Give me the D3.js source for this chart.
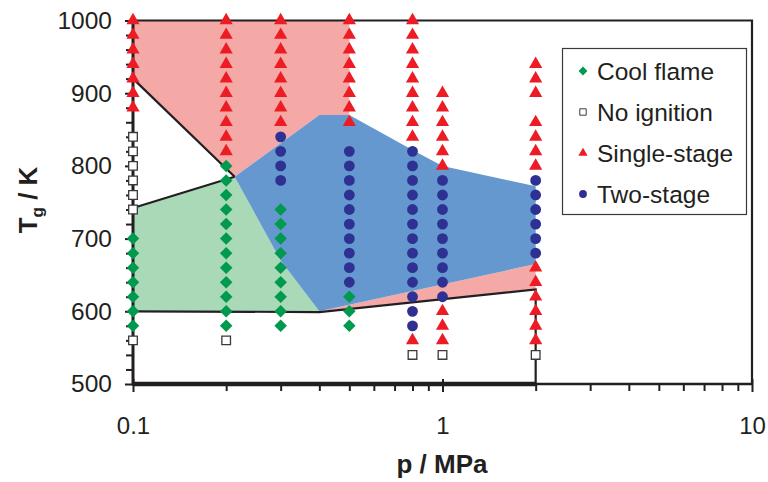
<!DOCTYPE html>
<html>
<head>
<meta charset="utf-8">
<script src="https://cdn.jsdelivr.net/npm/d3@7"></script>
<style>
  html, body { margin: 0; padding: 0; background: #fff; }
  svg { display: block; }
  text { font-family: "Liberation Sans", Arial, sans-serif; fill: #231f20; }
</style>
</head>
<body>
<svg id="chart" width="768" height="482"></svg>
<script>
// Ignition regimes vs. pressure (MPa) and gas temperature (K)

// Observed ignition behaviour, one list of temperatures per pressure
const coolFlame = [
  { p: 0.1, T: [700, 680, 660, 640, 620, 600, 580] },
  { p: 0.2, T: [800, 780, 760, 740, 720, 700, 680, 660, 640, 620, 600, 580] },
  { p: 0.3, T: [740, 720, 700, 680, 660, 640, 620, 600, 580] },
  { p: 0.5, T: [620, 600, 580] }
];
const noIgnition = [
  { p: 0.1, T: [840, 820, 800, 780, 760, 740, 560] },
  { p: 0.2, T: [560] },
  { p: 0.8, T: [540] },
  { p: 1, T: [540] },
  { p: 2, T: [540] }
];
const singleStage = [
  { p: 0.1, T: [1000, 980, 960, 940, 920, 900, 880] },
  { p: 0.2, T: [1000, 980, 960, 940, 920, 900, 880, 860, 840, 820] },
  { p: 0.3, T: [1000, 980, 960, 940, 920, 900, 880, 860] },
  { p: 0.5, T: [1000, 980, 960, 940, 920, 900, 880, 860] },
  { p: 0.8, T: [1000, 980, 960, 940, 920, 900, 880, 860, 840, 560] },
  { p: 1, T: [900, 880, 860, 840, 820, 800, 600, 580, 560] },
  { p: 2, T: [940, 920, 900, 860, 840, 820, 800, 660, 640, 620, 600, 580, 560] }
];
const twoStage = [
  { p: 0.3, T: [840, 820, 800, 780] },
  { p: 0.5, T: [820, 800, 780, 760, 740, 720, 700, 680, 660, 640] },
  { p: 0.8, T: [820, 800, 780, 760, 740, 720, 700, 680, 660, 640, 620, 600, 580] },
  { p: 1, T: [780, 760, 740, 720, 700, 680, 660, 640, 620] },
  { p: 2, T: [780, 760, 740, 720, 700, 680] }
];

// Regime areas as [p, T] outlines
const singleStageHighArea = [[0.1, 1000], [0.5, 1000], [0.5, 870], [0.4, 870], [0.213, 785], [0.1, 920]];
const twoStageArea = [[0.213, 785], [0.4, 870], [0.5, 870], [0.8, 822], [1, 800], [2, 772], [2, 665], [0.4, 600], [0.3, 670]];
const singleStageLowArea = [[0.4, 600], [2, 665], [2, 630]];
const coolFlameArea = [[0.1, 742], [0.213, 785], [0.3, 670], [0.4, 600], [0.1, 600]];

// Regime boundary lines
const upperBoundary = [[0.1, 920], [0.213, 785]];
const coolBoundary = [[0.1, 742], [0.213, 785]];
const lowerBoundary = [[0.1, 600], [0.4, 599], [2, 630], [2, 500]];

// Axis ticks
const xMajorTicks = [0.1, 1, 10];
const xMinorTicks = [0.2, 0.3, 0.4, 0.5, 0.6, 0.7, 0.8, 0.9, 2, 3, 4, 5, 6, 7, 8, 9];
const yMajorTicks = [500, 600, 700, 800, 900, 1000];
const yMinorTicks = [520, 540, 560, 580, 620, 640, 660, 680, 720, 740, 760, 780, 820, 840, 860, 880, 920, 940, 960, 980];

const legendItems = ["Cool flame", "No ignition", "Single-stage", "Two-stage"];

const colors = {
  pink: "#f4a9a7",
  blue: "#6598cf",
  green: "#a9d9b6",
  red: "#ed1c24",
  navy: "#2e3192",
  diamond: "#009a4e",
  line: "#231f20"
};

const svg = d3.select("#chart");
const x = d3.scaleLog().domain([0.1, 10]).range([133, 752]);
const y = d3.scaleLinear().domain([500, 1000]).range([384, 20.5]);

const line = d3.line().x(d => x(d[0])).y(d => y(d[1]));
const area = pts => line(pts) + "Z";

// Filled regimes
svg.append("path").attr("d", area(singleStageHighArea)).attr("fill", colors.pink);
svg.append("path").attr("d", area(singleStageLowArea)).attr("fill", colors.pink);
svg.append("path").attr("d", area(coolFlameArea)).attr("fill", colors.green);
svg.append("path").attr("d", area(twoStageArea)).attr("fill", colors.blue);

// Frame (top and right)
svg.append("path")
  .attr("d", `M${x(0.1)},${y(1000)}H${x(10)}V${y(500)}`)
  .attr("fill", "none").attr("stroke", colors.line).attr("stroke-width", 2.2);

// Boundaries
[upperBoundary, coolBoundary, lowerBoundary].forEach(b => {
  svg.append("path").attr("d", line(b))
    .attr("fill", "none").attr("stroke", colors.line).attr("stroke-width", 2.2)
    .attr("stroke-linejoin", "miter");
});
// Bottom boundary of the low-temperature no-ignition zone lies on the axis
svg.append("path")
  .attr("d", `M${x(0.1)},${y(500)}H${x(2)}`)
  .attr("stroke", colors.line).attr("stroke-width", 4.5);

// X axis
const gx = svg.append("g").attr("transform", `translate(0,${y(500)})`);
gx.append("line").attr("x1", x(0.1)).attr("x2", x(10))
  .attr("stroke", colors.line).attr("stroke-width", 2.5);
gx.call(d3.axisBottom(x).tickValues(xMinorTicks).tickSize(7).tickFormat(""));
gx.call(g => g.select(".domain").remove());
const gxMajor = svg.append("g").attr("transform", `translate(0,${y(500)})`)
  .call(d3.axisBottom(x).tickValues(xMajorTicks).tickSize(8).tickPadding(25)
    .tickFormat(d => d3.format("~g")(d)));
gxMajor.select(".domain").remove();
gxMajor.selectAll(".tick line").attr("y1", -5);
svg.selectAll("g .tick line").attr("stroke", colors.line).attr("stroke-width", 2);
gxMajor.selectAll(".tick text").attr("font-size", 24).attr("fill", colors.line)
  .style("font-family", "'Liberation Sans', Arial, sans-serif");

// Y axis
const gy = svg.append("g").attr("transform", `translate(${x(0.1)},0)`);
gy.call(d3.axisLeft(y).tickValues(yMinorTicks).tickSize(7).tickFormat(""));
gy.select(".domain").remove();
const gyMajor = svg.append("g").attr("transform", `translate(${x(0.1)},0)`)
  .call(d3.axisLeft(y).tickValues(yMajorTicks).tickSize(8).tickPadding(13)
    .tickFormat(d3.format("d")));
gyMajor.select(".domain").remove();
svg.selectAll("g .tick line").attr("stroke", colors.line).attr("stroke-width", 2);
gyMajor.selectAll(".tick text").attr("font-size", 24.5).attr("fill", colors.line)
  .style("font-family", "'Liberation Sans', Arial, sans-serif");
svg.append("line").attr("x1", x(0.1)).attr("x2", x(0.1))
  .attr("y1", y(1000) - 1).attr("y2", y(500) + 1.5)
  .attr("stroke", colors.line).attr("stroke-width", 3);

// Axis titles
svg.append("text")
  .attr("x", 442).attr("y", 473)
  .attr("text-anchor", "middle")
  .attr("font-size", 26).attr("font-weight", "bold")
  .text("p / MPa");
const yTitle = svg.append("text")
  .attr("transform", "translate(37,200) rotate(-90)")
  .attr("text-anchor", "middle")
  .attr("font-size", 26).attr("font-weight", "bold");
yTitle.append("tspan").text("T");
yTitle.append("tspan").attr("font-size", 17).attr("dy", 6).text("g");
yTitle.append("tspan").attr("dy", -6).text(" / K");

// Marker shapes
const sym = {
  diamond: (s) => d3.symbol().type(d3.symbolDiamond2).size(s)(),
  square: (s) => d3.symbol().type(d3.symbolSquare2).size(s)(),
  triangle: (s) => d3.symbol().type(d3.symbolTriangle2).size(s)(),
  circle: (s) => d3.symbol().type(d3.symbolCircle).size(s)()
};
const styles = {
  diamond: { fill: colors.diamond, stroke: "none", sw: 0 },
  square: { fill: "#fff", stroke: "#3a3a3a", sw: 1.3 },
  triangle: { fill: colors.red, stroke: "none", sw: 0 },
  circle: { fill: colors.navy, stroke: "none", sw: 0 }
};
const markerSize = { diamond: 100, square: 95, triangle: 125, circle: 92 };

function flatten(series) {
  return series.flatMap(s => s.T.map(T => ({ p: s.p, T })));
}
function drawSeries(series, kind) {
  const st = styles[kind];
  svg.append("g").selectAll("path")
    .data(flatten(series))
    .join("path")
    .attr("d", sym[kind](markerSize[kind]))
    .attr("transform", d => `translate(${x(d.p)},${y(d.T)})`)
    .attr("fill", st.fill)
    .attr("stroke", st.stroke)
    .attr("stroke-width", st.sw);
}
drawSeries(coolFlame, "diamond");
drawSeries(noIgnition, "square");
drawSeries(singleStage, "triangle");
drawSeries(twoStage, "circle");

// Legend
const legend = svg.append("g");
legend.append("rect")
  .attr("x", 562.5).attr("y", 48.5).attr("width", 184).attr("height", 166)
  .attr("fill", "#fff").attr("stroke", "#3a3a3a").attr("stroke-width", 1.2);
const legendKinds = ["diamond", "square", "triangle", "circle"];
const legendSize = { diamond: 50, square: 52, triangle: 62, circle: 48 };
legendItems.forEach((label, i) => {
  const cy = 71 + i * 41;
  const kind = legendKinds[i];
  const st = styles[kind];
  legend.append("path")
    .attr("d", sym[kind](legendSize[kind]))
    .attr("transform", `translate(583,${cy})`)
    .attr("fill", st.fill).attr("stroke", st.stroke).attr("stroke-width", kind === "square" ? 1 : 0);
  legend.append("text")
    .attr("x", 597).attr("y", cy + 8.5)
    .attr("font-size", 24.5)
    .text(label);
});
</script>
</body>
</html>
